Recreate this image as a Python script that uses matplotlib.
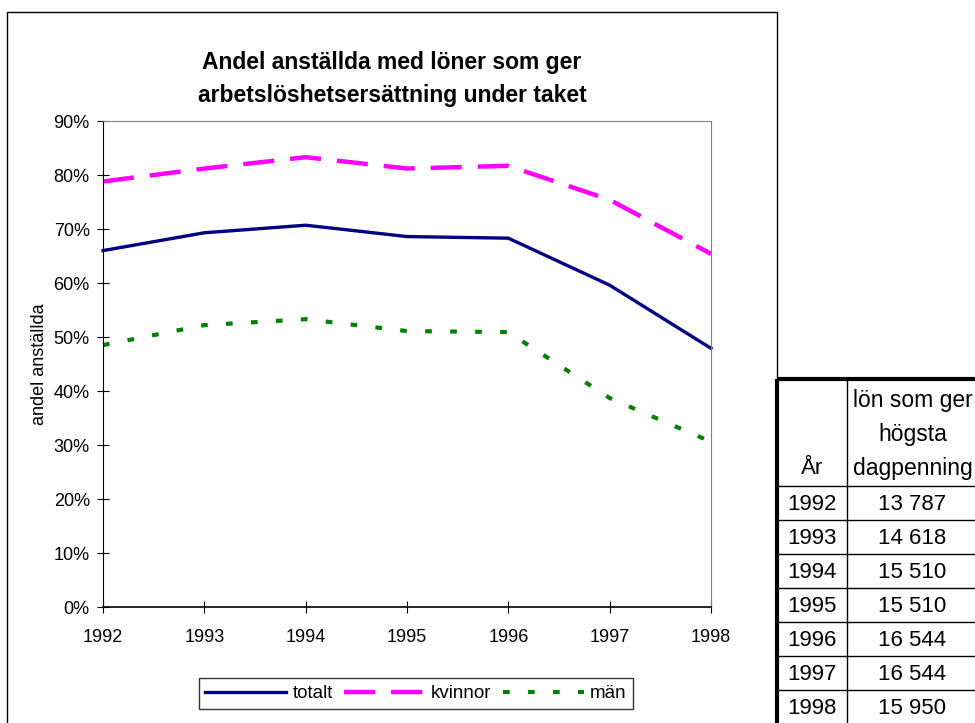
import matplotlib
matplotlib.use('Agg')
import matplotlib.pyplot as plt
from matplotlib.ticker import PercentFormatter

# andel anställda (%) med lön under taket
years = [1992, 1993, 1994, 1995, 1996, 1997, 1998]
totalt = [66.0, 69.3, 70.7, 68.6, 68.3, 59.6, 47.9]
kvinnor = [78.8, 81.2, 83.3, 81.2, 81.7, 75.4, 65.4]
man = [48.5, 52.2, 53.3, 51.1, 50.9, 38.7, 30.6]

# lön som ger högsta dagpenning
tab_years = ['1992', '1993', '1994', '1995', '1996', '1997', '1998']
tab_lon = ['13 787', '14 618', '15 510', '15 510', '16 544', '16 544', '15 950']

title = 'Andel anställda med löner som ger\narbetslöshetsersättning under taket'
plt.rcParams['font.family'] = ['Liberation Sans', 'DejaVu Sans']

W, H = 975, 723
fig = plt.figure(figsize=(W / 100, H / 100), dpi=100)

# overlay in pixel coordinates for frame and table
ov = fig.add_axes([0, 0, 1, 1], zorder=0)
ov.set_xlim(0, W)
ov.set_ylim(H, 0)
ov.axis('off')
ov.patch.set_alpha(0)

# chart frame
ov.plot([7, 7, 777, 777], [H + 5, 12, 12, H + 5], color='black', lw=1.0)

# table
x0, x1, x2 = 777, 847, 980
top, hdr, rh = 379, 486, 34
ov.plot([x0, x0], [top, H + 5], color='black', lw=3.0, solid_capstyle='butt')
ov.plot([x0, x2], [top, top], color='black', lw=3.0, solid_capstyle='butt')
ov.plot([x1, x1], [top, H + 5], color='black', lw=1.0)
ov.plot([x2, x2], [top, H + 5], color='black', lw=1.0)
for i in range(len(tab_years) + 1):
    y = hdr + i * rh
    ov.plot([x0, x2], [y, y], color='black', lw=1.0)
cx1, cx2 = (x0 + x1) / 2, (x1 + x2) / 2
ov.text(cx1, 468, 'År', ha='center', va='center', fontsize=16)
for yy, s in zip([401, 435, 468], ['lön som ger', 'högsta', 'dagpenning']):
    ov.text(cx2 - 1, yy, s, ha='center', va='center', fontsize=16.5)
for i, (yr, lon) in enumerate(zip(tab_years, tab_lon)):
    yc = hdr + i * rh + rh / 2 + 1
    ov.text(cx1, yc, yr, ha='center', va='center', fontsize=16)
    ov.text(cx2 - 1, yc, lon, ha='center', va='center', fontsize=16)

# chart
ax = fig.add_axes([103 / W, 1 - 607 / H, 608 / W, 486 / H], zorder=1)
ax.plot(years, totalt, color='#000080', lw=2.4, label='totalt', clip_on=False)
ax.plot(years, kvinnor, color='#FF00FF', lw=3.2, dashes=(7.0, 3.6), label='kvinnor',
        clip_on=False, dash_capstyle='butt')
ax.plot(years, man, color='#008000', lw=3.0, dashes=(1.6, 4.4), label='män',
        clip_on=False, dash_capstyle='butt')

ax.set_xlim(1992, 1998)
ax.set_ylim(0, 90)
ax.set_xticks(years)
ax.set_yticks(range(0, 91, 10))
ax.yaxis.set_major_formatter(PercentFormatter(decimals=0))
ax.tick_params(direction='inout', length=9, width=0.8, labelsize=13, color='black')
ax.tick_params(axis='x', pad=11)
ax.tick_params(axis='y', pad=5)
for s in ['top', 'right']:
    ax.spines[s].set_color('#808080')
for s in ['left', 'bottom']:
    ax.spines[s].set_color('black')
ax.spines['bottom'].set_linewidth(1.2)
ax.set_ylabel('andel anställda', fontsize=13, labelpad=4)

fig.text(392 / W, 1 - 79 / H, title, ha='center', va='center', fontsize=16.5,
         fontweight='bold', linespacing=1.6)

leg = fig.legend(loc='center', bbox_to_anchor=(416 / W, 1 - 693.5 / H), ncol=3,
                 fontsize=13.5, frameon=True, fancybox=False, handlelength=4.3,
                 handletextpad=0.35, columnspacing=0.6, borderpad=0.35,
                 borderaxespad=0)
leg.get_frame().set_edgecolor('black')
leg.get_frame().set_linewidth(1.0)

fig.savefig('out.png', dpi=100)
